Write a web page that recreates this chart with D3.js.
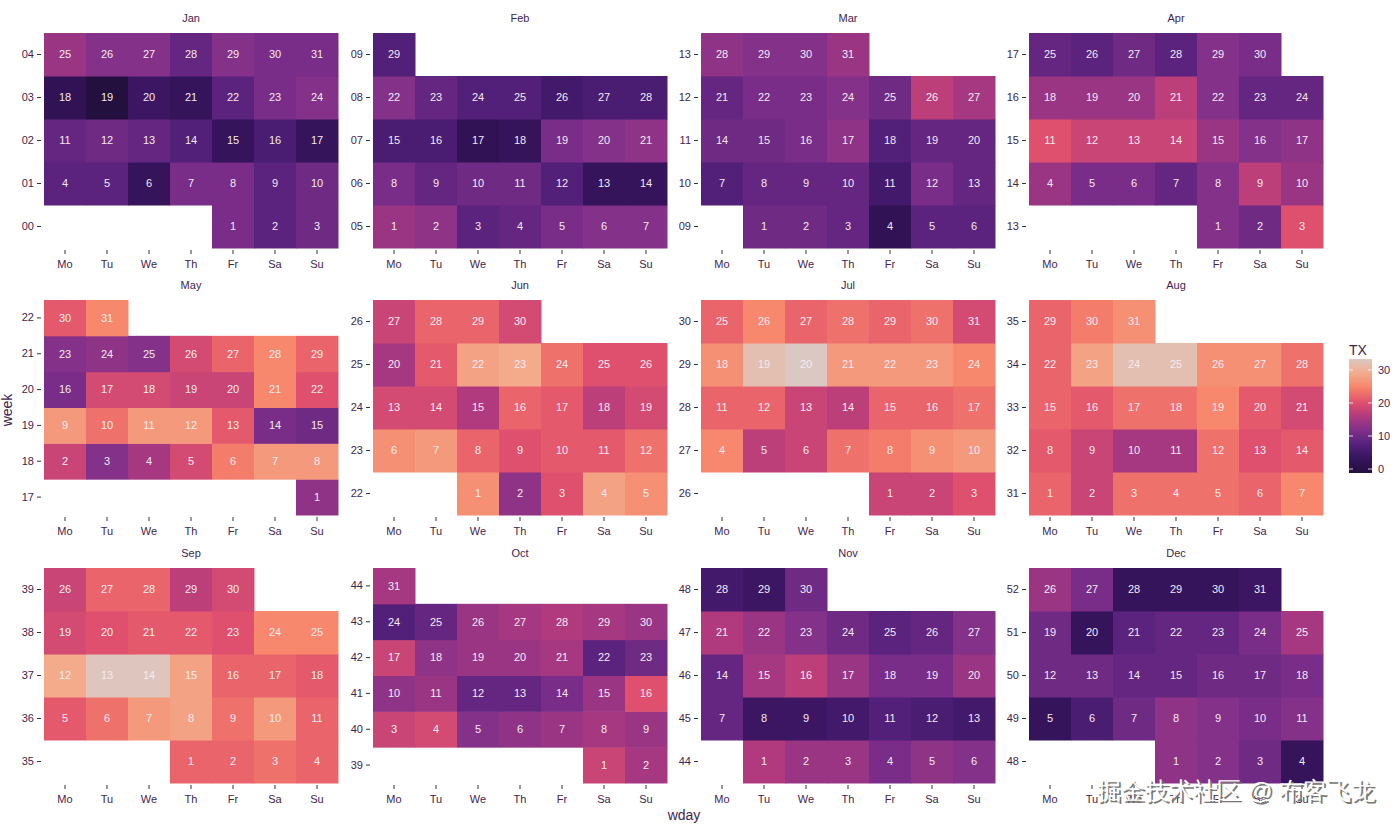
<!DOCTYPE html>
<html>
<head>
<meta charset="utf-8">
<script src="https://cdn.jsdelivr.net/npm/d3@7"></script>
<style>
  body { margin: 0; background: #fff; }
  text { font-family: "Liberation Sans", Arial, sans-serif; }
</style>
</head>
<body>
<svg class="calendar"></svg>
<script>
// daily max temperature (TX), 2016, one array per month
const year = 2016;
const months = ['Jan', 'Feb', 'Mar', 'Apr', 'May', 'Jun', 'Jul', 'Aug', 'Sep', 'Oct', 'Nov', 'Dec'];
const wdays = ['Mo', 'Tu', 'We', 'Th', 'Fr', 'Sa', 'Su'];

const txJan = [11, 8, 10, 8, 8, 3, 11, 11, 8, 10, 9, 10, 9, 7, 3, 6, 3, 2, -1.2, 4, 3, 8, 11, 12, 14, 12, 12, 9, 12, 11, 11];
const txFeb = [14, 13, 8, 9, 11, 12, 12, 11, 9, 10, 10, 7, 3, 3, 6, 6, 2, 3, 11, 12, 13, 12, 9, 7, 7, 5, 6, 6, 7];
const txMar = [10, 10, 9, 2, 8, 8, 7, 9, 9, 9, 5, 11, 9, 10, 10, 11, 13, 7, 9, 9, 9, 11, 11, 12, 10, 17, 15, 13, 12, 12, 14];
const txApr = [12, 10, 20, 14, 11, 11, 9, 12, 17, 14, 20, 18, 18, 18, 14, 12, 13, 14, 14, 14, 17, 12, 9, 9, 9, 8, 10, 8, 12, 11];
const txMay = [13, 18, 12, 15, 19, 24, 27, 27, 27, 23, 27, 27, 21, 11, 10, 11, 19, 19, 18, 18, 25, 20, 12, 13, 12, 19, 22, 25, 22, 21, 25];
const txJun = [26, 13, 20, 28, 26, 26, 27, 22, 20, 21, 21, 23, 19, 19, 16, 22, 21, 17, 19, 15, 21, 28, 29, 23, 20, 20, 18, 22, 22, 19];
const txJul = [18, 18, 20, 25, 17, 18, 23, 24, 26, 27, 22, 22, 18, 17, 22, 22, 23, 26, 32, 33.3, 27, 27, 27, 25, 22, 25, 22, 23, 22, 23, 19];
const txAug = [22, 18, 23, 23, 23, 22, 25, 21, 18, 15, 15, 23, 20, 21, 22, 21, 23, 23, 25, 21, 19, 22, 28, 32, 32, 26, 26, 23, 22, 24, 26];
const txSep = [22, 22, 23, 22, 21, 23, 27, 28, 23, 27, 22, 29, 33, 33, 28, 22, 22, 21, 19, 20, 21, 21, 20, 25, 25, 18, 22, 22, 17, 19];
const txOct = [18, 15, 18, 19, 12, 13, 14, 15, 14, 13, 14, 9, 9, 11, 14, 20, 18, 13, 14, 14, 15, 8, 10, 7, 9, 14, 15, 16, 15, 14, 15];
const txNov = [16, 14, 14, 11, 13, 12, 9, 4, 4, 5, 7, 6, 5, 9, 15, 17, 14, 11, 11, 14, 16, 14, 12, 10, 8, 9, 12, 5, 4, 10];
const txDec = [13, 12, 10, 3, 3, 6, 10, 13, 12, 11, 12, 10, 10, 9, 9, 10, 10, 11, 10, 3, 8, 9, 9, 11, 15, 14, 11, 3, 3, 3, 4];
const legendTicks = [0, 10, 20, 30];

const txByMonth = [txJan, txFeb, txMar, txApr, txMay, txJun, txJul, txAug, txSep, txOct, txNov, txDec];

const width = 1400, height = 827;
const svg = d3.select('.calendar')
  .attr('width', width)
  .attr('height', height);

const weekFmt = d3.timeFormat('%W');
const data = [];
txByMonth.forEach((arr, m) => {
  arr.forEach((tx, i) => {
    const date = new Date(year, m, i + 1);
    data.push({
      month: m,
      day: i + 1,
      wday: wdays[(date.getDay() + 6) % 7],
      week: weekFmt(date),
      tx: tx
    });
  });
});

// magma-like palette as it comes out in the picture
const extent = d3.extent(data, d => d.tx);
const colorStops = ['#24103f', '#35145d', '#55207c', '#80308a', '#b23a7e', '#e2526c', '#f7846a', '#f3ab8c', '#dcc8c2'];
const color = d3.scaleLinear()
  .domain(d3.range(colorStops.length).map(i => extent[0] + (extent[1] - extent[0]) * i / (colorStops.length - 1)))
  .range(colorStops)
  .interpolate(d3.interpolateRgb);

const textCol = '#3f2450';
const colLeft = [44, 373, 701, 1029];
const rowTop = [33, 300, 568];
const panelW = 294, panelH = 215;

months.forEach((name, m) => {
  const md = data.filter(d => d.month === m);
  const weeks = Array.from(new Set(md.map(d => d.week))).sort().reverse();

  const xScale = d3.scaleBand().domain(wdays).range([0, panelW]);
  const yScale = d3.scaleBand().domain(weeks).range([0, panelH]);

  const g = svg.append('g')
    .attr('transform', `translate(${colLeft[m % 4]}, ${rowTop[Math.floor(m / 4)]})`);

  g.selectAll('rect')
    .data(md)
    .enter()
    .append('rect')
      .attr('x', d => xScale(d.wday))
      .attr('y', d => yScale(d.week))
      .attr('width', xScale.bandwidth() + 0.5)
      .attr('height', yScale.bandwidth() + 0.5)
      .attr('fill', d => color(d.tx));

  g.selectAll('.daylabel')
    .data(md)
    .enter()
    .append('text')
      .attr('class', 'daylabel')
      .attr('x', d => xScale(d.wday) + xScale.bandwidth() / 2)
      .attr('y', d => yScale(d.week) + yScale.bandwidth() / 2)
      .attr('dy', '0.35em')
      .attr('text-anchor', 'middle')
      .attr('font-size', 11)
      .attr('fill', '#f4eaf0')
      .text(d => d.day);

  const yAxisG = g.append('g')
    .call(d3.axisLeft(yScale).tickSize(4).tickPadding(3))
    .attr('transform', 'translate(-3, 0)');
  yAxisG.select('.domain').remove();
  yAxisG.selectAll('line').attr('stroke', '#333');
  yAxisG.selectAll('text').attr('fill', textCol).attr('font-size', 11);

  const xAxisG = g.append('g')
    .call(d3.axisBottom(xScale).tickSize(4).tickPadding(6))
    .attr('transform', `translate(0, ${panelH + 2})`);
  xAxisG.select('.domain').remove();
  xAxisG.selectAll('line').attr('stroke', '#333');
  xAxisG.selectAll('text').attr('fill', textCol).attr('font-size', 11);

  g.append('text')
    .attr('x', panelW / 2)
    .attr('y', -11)
    .attr('text-anchor', 'middle')
    .attr('font-size', 11)
    .attr('fill', textCol)
    .text(name);
});

// axis titles
svg.append('text')
  .attr('transform', 'translate(12, 410) rotate(-90)')
  .attr('text-anchor', 'middle')
  .attr('font-size', 14)
  .attr('fill', textCol)
  .text('week');

svg.append('text')
  .attr('x', 684)
  .attr('y', 820)
  .attr('text-anchor', 'middle')
  .attr('font-size', 14)
  .attr('fill', textCol)
  .text('wday');

// colour bar legend
const barX = 1349, barW = 23, barTop = 359, barBottom = 473;
const legendScale = d3.scaleLinear().domain(extent).range([barBottom, barTop]);

const defs = svg.append('defs');
const grad = defs.append('linearGradient')
  .attr('id', 'txgrad')
  .attr('x1', 0).attr('y1', 1).attr('x2', 0).attr('y2', 0);
color.domain().forEach((v, i) => {
  grad.append('stop')
    .attr('offset', (v - extent[0]) / (extent[1] - extent[0]))
    .attr('stop-color', colorStops[i]);
});

svg.append('rect')
  .attr('x', barX)
  .attr('y', barTop)
  .attr('width', barW)
  .attr('height', barBottom - barTop)
  .attr('fill', 'url(#txgrad)');

const lg = svg.append('g');
legendTicks.forEach(t => {
  const y = legendScale(t);
  lg.append('line').attr('x1', barX).attr('x2', barX + 4).attr('y1', y).attr('y2', y)
    .attr('stroke', '#fff').attr('stroke-opacity', 0.8);
  lg.append('line').attr('x1', barX + barW - 4).attr('x2', barX + barW).attr('y1', y).attr('y2', y)
    .attr('stroke', '#fff').attr('stroke-opacity', 0.8);
  lg.append('text')
    .attr('x', barX + barW + 6)
    .attr('y', y)
    .attr('dy', '0.35em')
    .attr('font-size', 11)
    .attr('fill', textCol)
    .text(t);
});

svg.append('text')
  .attr('x', barX)
  .attr('y', 355)
  .attr('font-size', 14)
  .attr('fill', textCol)
  .text('TX');

// watermark
const wm = '掘金技术社区 @ 布客飞龙';
svg.append('text')
  .attr('x', 1377)
  .attr('y', 801)
  .attr('text-anchor', 'end')
  .attr('font-size', 24)
  .attr('font-family', '"Noto Sans CJK SC", sans-serif')
  .attr('fill', '#777')
  .text(wm);
svg.append('text')
  .attr('x', 1375)
  .attr('y', 799)
  .attr('text-anchor', 'end')
  .attr('font-size', 24)
  .attr('font-family', '"Noto Sans CJK SC", sans-serif')
  .attr('fill', '#fff')
  .text(wm);
</script>
</body>
</html>
